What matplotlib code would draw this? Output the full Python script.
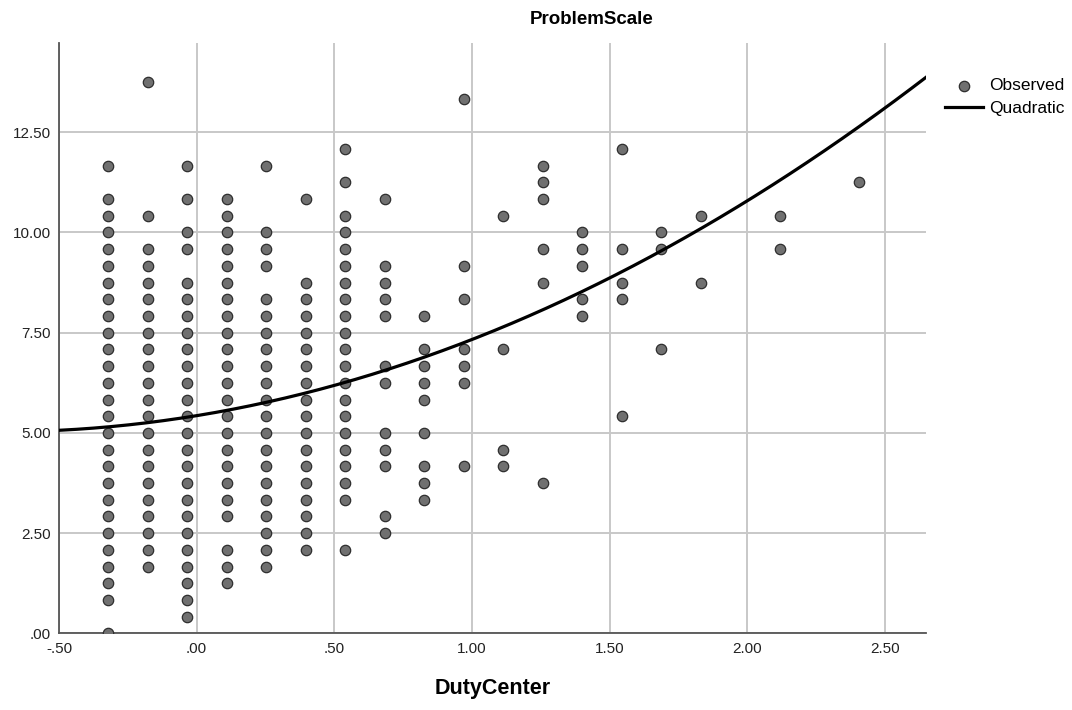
import numpy as np
import matplotlib.pyplot as plt
from matplotlib.ticker import FuncFormatter

plt.rcParams['font.family'] = ['Liberation Sans', 'DejaVu Sans']

# DutyCenter column values (discrete levels)
duty_levels = [-0.321, -0.178, -0.034, 0.110, 0.253, 0.397, 0.540, 0.683, 0.827,
               0.970, 1.114, 1.257, 1.401, 1.544, 1.688, 1.831, 2.118, 2.405]

# ProblemScale values observed at each level, in steps of 1/2.4
step = 1 / 2.4
problem_steps = [
    [0] + list(range(2, 27)) + [28],
    list(range(4, 24)) + [25, 33],
    list(range(1, 22)) + [23, 24, 26, 28],
    [3, 4, 5] + list(range(7, 27)),
    list(range(4, 21)) + [22, 23, 24, 28],
    list(range(5, 22)) + [26],
    [5] + list(range(8, 26)) + [27, 29],
    [6, 7, 10, 11, 12, 15, 16, 19, 20, 21, 22, 26],
    [8, 9, 10, 12, 14, 15, 16, 17, 19],
    [10, 15, 16, 17, 20, 22, 32],
    [10, 11, 17, 25],
    [9, 21, 23, 26, 27, 28],
    [19, 20, 22, 23, 24],
    [13, 20, 21, 23, 29],
    [17, 23, 24],
    [21, 25],
    [23, 25],
    [27],
]

# quadratic fit coefficients (constant, linear, squared)
quad_coef = [5.43, 1.12, 0.78]

xs, ys = [], []
for lvl, ks in zip(duty_levels, problem_steps):
    for k in ks:
        xs.append(lvl)
        ys.append(k * step)

fig = plt.figure(figsize=(10.72, 7.1), dpi=100)
ax = fig.add_axes([0.055, 0.108, 0.809, 0.831])

ax.scatter(xs, ys, s=56, c='#707070', edgecolors='#2e2e2e', linewidths=0.9,
           zorder=3, label='Observed')

xc = np.linspace(-0.5, 2.65, 300)
yc = quad_coef[0] + quad_coef[1] * xc + quad_coef[2] * xc ** 2
ax.plot(xc, yc, color='black', lw=2.3, zorder=4, label='Quadratic')

ax.set_xlim(-0.5, 2.65)
ax.set_ylim(0, 14.72)
ax.set_xticks(np.arange(-0.5, 2.51, 0.5))
ax.set_yticks(np.arange(0, 12.51, 2.5))


def fmt(v, pos):
    s = f"{v:.2f}"
    return s.replace('0.', '.', 1) if s.startswith(('0.', '-0.')) else s


ax.xaxis.set_major_formatter(FuncFormatter(fmt))
ax.yaxis.set_major_formatter(FuncFormatter(fmt))
ax.tick_params(length=0, labelsize=11, colors='#222222', pad=6)
ax.grid(True, color='#c8c8c8', lw=1.4, zorder=0)
ax.set_axisbelow(True)
for s in ['top', 'right']:
    ax.spines[s].set_visible(False)
for s in ['left', 'bottom']:
    ax.spines[s].set_color('#555555')
    ax.spines[s].set_linewidth(1.3)

ax.set_xlabel('DutyCenter', fontsize=15.5, fontweight='bold', labelpad=16)
fig.text(0.552, 0.972, 'ProblemScale', fontsize=13.5, fontweight='bold',
         ha='center', va='center')

ax.legend(loc='upper left', bbox_to_anchor=(1.022, 0.941), frameon=False,
          fontsize=12.5, handlelength=2.2, handletextpad=0.35,
          labelspacing=0.45, borderaxespad=0, borderpad=0)

fig.savefig('out.png', dpi=100)
